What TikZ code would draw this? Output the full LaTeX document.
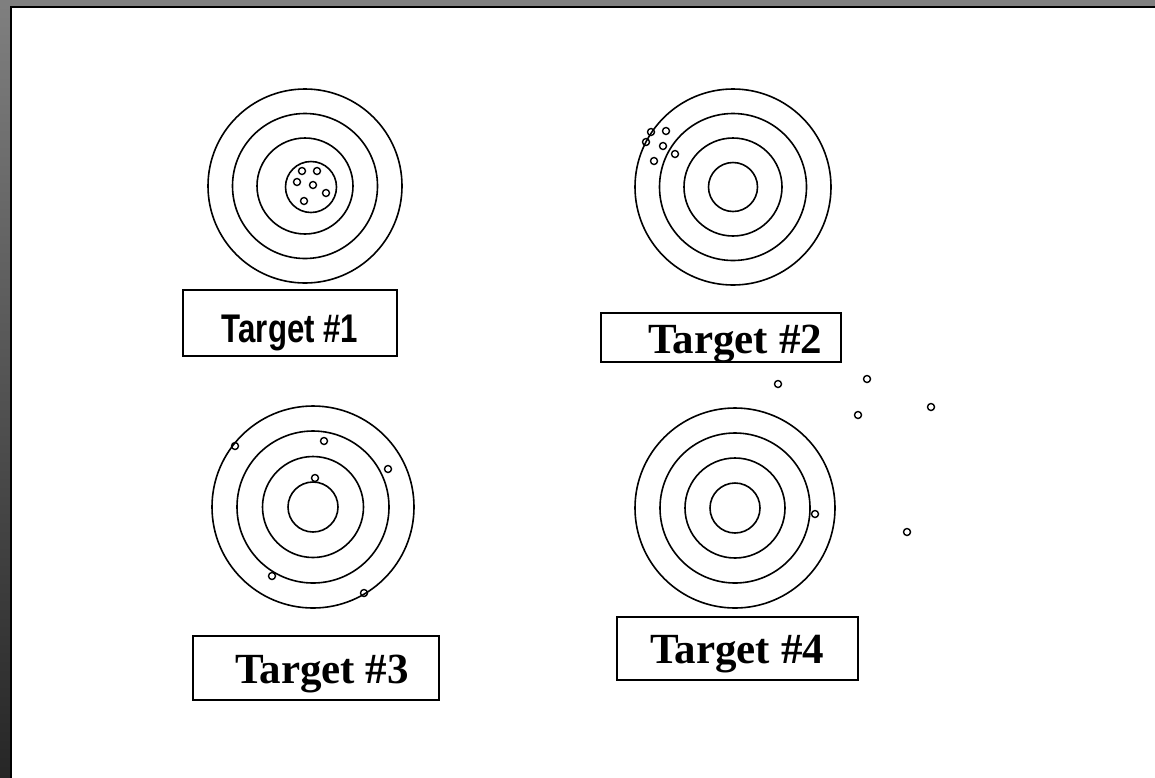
\documentclass[tikz,border=0pt]{standalone}
\usepackage{fontspec}
\newfontfamily\narrowsans[FakeStretch=0.78]{Liberation Sans}
\newfontfamily\timesbold{Liberation Serif}
\begin{document}
\begin{tikzpicture}[x=1pt,y=-1pt,
  ring/.style={circle, draw, line width=1.6pt, inner sep=0pt, minimum size=#1},
  shot/.style={circle, draw, line width=1.4pt, inner sep=0pt, minimum size=7pt},
  labelbox/.style={draw, line width=1.5pt, inner sep=0pt, fill=white},
  sanslabel/.style={font=\narrowsans\bfseries\fontsize{40}{42}\selectfont},
  seriflabel/.style={font=\timesbold\bfseries\fontsize{43}{45}\selectfont}]
\useasboundingbox (0,0) rectangle (1155,777);
% backdrop
\shade[top color=black!50, bottom color=black!85] (0,0) rectangle (12,777);
\fill[black!50] (12,0) rectangle (1155,8);
\draw[fill=white, line width=1.8pt] (11,7) rectangle (1165,790);
% Target 1
\coordinate (c1) at (305,186);
\foreach \r/\n in {194/4,145/3,96/2} \node[ring=\r pt] (t1r\n) at (c1) {};
\node[ring=51pt] (t1r1) at (311,187) {};
\foreach \x/\y [count=\i] in {302/171,317/171,297/182,313/185,326/193,304/201}
  \node[shot] (t1s\i) at (\x,\y) {};
% Target 2
\coordinate (c2) at (733,187);
\foreach \r/\n in {196/4,147/3,98/2,49/1} \node[ring=\r pt] (t2r\n) at (c2) {};
\foreach \x/\y [count=\i] in {651/132,666/131,646/142,663/146,675/154,654/161}
  \node[shot] (t2s\i) at (\x,\y) {};
% Target 3
\coordinate (c3) at (313,507);
\foreach \r/\n in {202/4,152/3,101/2,50/1} \node[ring=\r pt] (t3r\n) at (c3) {};
\foreach \x/\y [count=\i] in {235/446,324/441,388/469,315/478,272/576,364/593}
  \node[shot] (t3s\i) at (\x,\y) {};
% Target 4
\coordinate (c4) at (735,508);
\foreach \r/\n in {200/4,150/3,100/2,50/1} \node[ring=\r pt] (t4r\n) at (c4) {};
\foreach \x/\y [count=\i] in {778/384,867/379,931/407,858/415,815/514,907/532}
  \node[shot] (t4s\i) at (\x,\y) {};
% labels
\node[labelbox, minimum width=214pt, minimum height=66pt] (l1) at (290,323) {};
\node[sanslabel, anchor=base] (l1t) at (290,342) {Target \#1};
\node[labelbox, minimum width=240pt, minimum height=49pt] (l2) at (721,337.5) {};
\node[seriflabel, anchor=base] (l2t) at (735,353) {Target \#2};
\node[labelbox, minimum width=246pt, minimum height=64pt] (l3) at (316,668) {};
\node[seriflabel, anchor=base] (l3t) at (322,683) {Target \#3};
\node[labelbox, minimum width=241pt, minimum height=63pt] (l4) at (737.5,648.5) {};
\node[seriflabel, anchor=base] (l4t) at (737,663) {Target \#4};
\end{tikzpicture}
\end{document}
